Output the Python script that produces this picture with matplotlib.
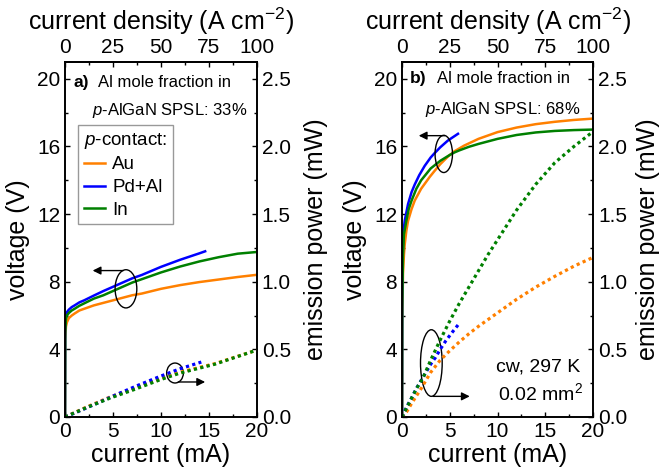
import matplotlib
matplotlib.use('Agg')
import matplotlib.pyplot as plt
from matplotlib.patches import Ellipse
from matplotlib.ticker import MultipleLocator, FormatStrFormatter

plt.rcParams['font.family'] = ['Liberation Sans', 'DejaVu Sans']
plt.rcParams['mathtext.fontset'] = 'custom'
plt.rcParams['mathtext.rm'] = 'Liberation Sans'
plt.rcParams['mathtext.it'] = 'Liberation Sans:italic'
plt.rcParams['mathtext.bf'] = 'Liberation Sans:bold'

# --- data -------------------------------------------------------------
area_mm2 = 0.02                    # device area
j_factor = 1e-3 / (area_mm2 * 1e-2)   # mA -> A cm^-2

contacts = ['Au', 'Pd+Al', 'In']
colors = ['#FF8000', '#0000FF', '#008000']

# panel a (33 % Al) - voltage
a_i_au = [0, 0.02, 0.1, 0.2, 0.4, 0.7, 1.0, 1.5, 2, 3, 4, 5, 6, 7, 8, 10, 12, 14, 16, 18, 20]
a_v_au = [0, 4.6, 5.35, 5.6, 5.85, 6.0, 6.12, 6.3, 6.4, 6.6, 6.75, 6.9, 7.05, 7.2, 7.3, 7.58, 7.8, 7.98, 8.13, 8.28, 8.41]
a_i_pd = [0, 0.02, 0.1, 0.2, 0.4, 0.7, 1.0, 1.5, 2, 3, 4, 5, 6, 7, 8, 10, 12, 14, 14.6]
a_v_pd = [0, 5.2, 6.0, 6.2, 6.35, 6.5, 6.6, 6.78, 6.9, 7.18, 7.45, 7.7, 7.95, 8.2, 8.4, 8.88, 9.3, 9.68, 9.8]
a_i_in = [0, 0.02, 0.1, 0.2, 0.4, 0.7, 1.0, 1.5, 2, 3, 4, 5, 6, 7, 8, 10, 12, 14, 16, 18, 20]
a_v_in = [0, 5.0, 5.8, 6.0, 6.15, 6.3, 6.4, 6.58, 6.72, 7.0, 7.2, 7.45, 7.7, 7.95, 8.15, 8.55, 8.9, 9.2, 9.45, 9.66, 9.76]

# panel a - emission power (mW)
a_pi_au = [0, 2.26, 4.7, 7.1, 9.9, 12, 15.6, 20]
a_p_au = [0, 0.074, 0.148, 0.21, 0.283, 0.332, 0.394, 0.495]
a_pi_pd = [0, 1.04, 3.3, 5.4, 7.6, 9.9, 12, 14.2]
a_p_pd = [0, 0.03, 0.10, 0.167, 0.234, 0.30, 0.357, 0.406]
a_pi_in = [0, 2.26, 4.7, 7.1, 9.9, 12, 15.6, 20]
a_p_in = [0, 0.07, 0.14, 0.2, 0.275, 0.325, 0.39, 0.495]

# panel b (68 % Al) - voltage
b_i_au = [0, 0.02, 0.1, 0.2, 0.28, 0.45, 0.63, 1.0, 1.33, 2, 2.9, 3.4, 4, 4.8, 5.5, 6.5, 8, 10, 12, 14, 16, 18, 20]
b_v_au = [0, 5.5, 8.5, 9.6, 10.2, 11.0, 11.6, 12.3, 12.8, 13.5, 14.2, 14.55, 14.95, 15.4, 15.72, 16.05, 16.45, 16.85, 17.12, 17.32, 17.46, 17.57, 17.65]
b_i_pd = [0, 0.02, 0.1, 0.2, 0.28, 0.63, 1.0, 1.33, 1.8, 2.37, 3.0, 3.4, 4.0, 4.8, 5.86]
b_v_pd = [0, 7.0, 10.6, 11.2, 11.6, 12.6, 13.3, 13.75, 14.3, 14.85, 15.35, 15.6, 15.95, 16.35, 16.75]
b_i_in = [0, 0.02, 0.1, 0.2, 0.45, 0.7, 1.0, 1.5, 2, 3, 4, 5, 5.5, 6, 7, 8, 10, 12, 14, 16, 18, 20]
b_v_in = [0, 6.5, 9.6, 10.8, 11.6, 12.3, 12.8, 13.5, 14.0, 14.7, 15.15, 15.5, 15.65, 15.77, 15.98, 16.15, 16.45, 16.68, 16.83, 16.92, 16.97, 17.0]

# panel b - emission power (mW)
b_pi_au = [0, 0.5, 1, 2, 3, 4, 5, 6, 7, 8, 9, 10, 12, 14, 16, 18, 20]
b_p_au = [0, 0.04, 0.1, 0.21, 0.33, 0.42, 0.49, 0.555, 0.615, 0.67, 0.72, 0.77, 0.87, 0.96, 1.04, 1.115, 1.18]
b_pi_pd = [0, 0.45, 1.0, 1.5, 2, 2.5, 3, 3.5, 4, 4.6, 5.3, 5.86]
b_p_pd = [0, 0.07, 0.14, 0.21, 0.27, 0.33, 0.39, 0.44, 0.5, 0.565, 0.63, 0.68]
b_pi_in = [0, 0.5, 1, 1.6, 2.2, 3, 4, 5, 6, 7, 8, 9, 10, 12, 14, 16, 18, 20]
b_p_in = [0, 0.07, 0.14, 0.22, 0.29, 0.42, 0.57, 0.71, 0.84, 0.96, 1.08, 1.2, 1.31, 1.53, 1.72, 1.88, 2.0, 2.11]

v_max = 21
p_max = v_max / 8

# --- figure -----------------------------------------------------------
fig = plt.figure(figsize=(6.62, 4.74), dpi=100)
axa = fig.add_axes([0.0982, 0.1203, 0.29, 0.749])
axb = fig.add_axes([0.6073, 0.1203, 0.2885, 0.749])

dots = (0, (1.0, 1.05))


def setup(ax, rlab_x):
    ax.set_xlim(0, 20)
    ax.set_ylim(0, v_max)
    ax.xaxis.set_major_locator(MultipleLocator(5))
    ax.xaxis.set_minor_locator(MultipleLocator(2.5))
    ax.yaxis.set_major_locator(MultipleLocator(4))
    ax.yaxis.set_minor_locator(MultipleLocator(2))
    ax.tick_params(which='both', direction='in', top=False, right=False,
                   labelsize=15, width=1)
    ax.tick_params(which='major', length=3.5)
    ax.tick_params(which='minor', length=2.5)
    ax.set_xlabel('current (mA)', fontsize=18)
    ax.set_ylabel('voltage (V)', fontsize=18)
    ax.xaxis.set_label_coords(0.5, -0.074)
    ax.yaxis.set_label_coords(-0.182, 0.5)
    for s in ax.spines.values():
        s.set_linewidth(1.2)

    ax_r = ax.twinx()
    ax_r.set_ylim(0, p_max)
    ax_r.yaxis.set_major_locator(MultipleLocator(0.5))
    ax_r.yaxis.set_minor_locator(MultipleLocator(0.25))
    ax_r.yaxis.set_major_formatter(FormatStrFormatter('%.1f'))
    ax_r.tick_params(which='both', direction='in', labelsize=15, width=1)
    ax_r.tick_params(which='major', length=3.5)
    ax_r.tick_params(which='minor', length=2.5)
    ax_r.set_ylabel('emission power (mW)', fontsize=18)
    ax_r.yaxis.set_label_coords(rlab_x, 0.5)
    for s in ax_r.spines.values():
        s.set_linewidth(1.2)

    sec = ax.secondary_xaxis('top', functions=(lambda x: x * j_factor,
                                               lambda j: j / j_factor))
    sec.set_xticks([0, 25, 50, 75, 100])
    sec.xaxis.set_minor_locator(MultipleLocator(12.5))
    sec.tick_params(which='both', direction='in', labelsize=15, width=1)
    sec.tick_params(which='major', length=3.5)
    sec.tick_params(which='minor', length=2.5)
    sec.set_xlabel('current density (A cm$^{-2}$)', fontsize=18)
    sec.xaxis.set_label_coords(0.5, 1.09, transform=ax.transAxes)
    sec.spines['top'].set_linewidth(1.2)
    return ax_r


def ellipse_arrow(ax, center, w, h, start, end):
    ax.add_patch(Ellipse(center, w, h, fill=False, ec='k', lw=1, zorder=5))
    ax.annotate('', xy=end, xytext=start,
                arrowprops=dict(arrowstyle='-|>', color='k', lw=1,
                                mutation_scale=12, shrinkA=0, shrinkB=0),
                zorder=5)


# panel a
axa_r = setup(axa, 1.245)
handles = []
for i_v, v, i_p, p, c, lab in zip([a_i_au, a_i_pd, a_i_in], [a_v_au, a_v_pd, a_v_in],
                                  [a_pi_au, a_pi_pd, a_pi_in], [a_p_au, a_p_pd, a_p_in],
                                  colors, contacts):
    h, = axa.plot(i_v, v, color=c, lw=1.8, label=lab)
    handles.append(h)
    axa_r.plot(i_p, p, color=c, lw=2.3, ls=dots)

ellipse_arrow(axa, (6.35, 7.58), 2.26, 2.26, (6.07, 8.66), (2.88, 8.66))
ellipse_arrow(axa, (11.46, 2.6), 1.74, 1.18, (11.8, 2.07), (14.6, 2.07))

axa.text(0.042, 0.941, 'a)', transform=axa.transAxes, fontsize=12.5,
         fontweight='bold', va='center', ha='left')
axa.text(0.174, 0.941, 'Al mole fraction in', transform=axa.transAxes,
         fontsize=12, va='center', ha='left')
axa.text(0.141, 0.863, '$p$-AlGaN SPSL: 33%', transform=axa.transAxes,
         fontsize=12, va='center', ha='left')

leg = axa_r.legend(handles, contacts, title='$p$-contact:', loc='upper left',
                   bbox_to_anchor=(0.069, 0.8225), borderaxespad=0,
                   fontsize=13.5, title_fontsize=13.5, fancybox=False,
                   edgecolor='#808080', handlelength=1.1, handletextpad=0.4,
                   labelspacing=0.3, borderpad=0.3, alignment='left')
leg.get_frame().set_linewidth(1.0)

# panel b
axb_r = setup(axb, 1.225)
for i_v, v, i_p, p, c in zip([b_i_au, b_i_pd, b_i_in], [b_v_au, b_v_pd, b_v_in],
                             [b_pi_au, b_pi_pd, b_pi_in], [b_p_au, b_p_pd, b_p_in],
                             colors):
    axb.plot(i_v, v, color=c, lw=1.8)
    axb_r.plot(i_p, p, color=c, lw=2.3, ls=dots)

ellipse_arrow(axb, (4.37, 15.56), 1.82, 2.2, (4.47, 16.64), (1.75, 16.64))
ellipse_arrow(axb, (3.07, 3.19), 2.27, 3.94, (3.25, 1.22), (7.09, 1.22))

axb.text(0.042, 0.954, 'b)', transform=axb.transAxes, fontsize=12.5,
         fontweight='bold', va='center', ha='left')
axb.text(0.182, 0.954, 'Al mole fraction in', transform=axb.transAxes,
         fontsize=12, va='center', ha='left')
axb.text(0.12, 0.865, '$p$-AlGaN SPSL: 68%', transform=axb.transAxes,
         fontsize=12, va='center', ha='left')
axb.text(0.932, 0.142, 'cw, 297 K', transform=axb.transAxes,
         fontsize=14, va='center', ha='right')
axb.text(0.945, 0.067, '0.02 mm$^2$', transform=axb.transAxes,
         fontsize=14, va='center', ha='right')

fig.savefig('out.png', dpi=100)
